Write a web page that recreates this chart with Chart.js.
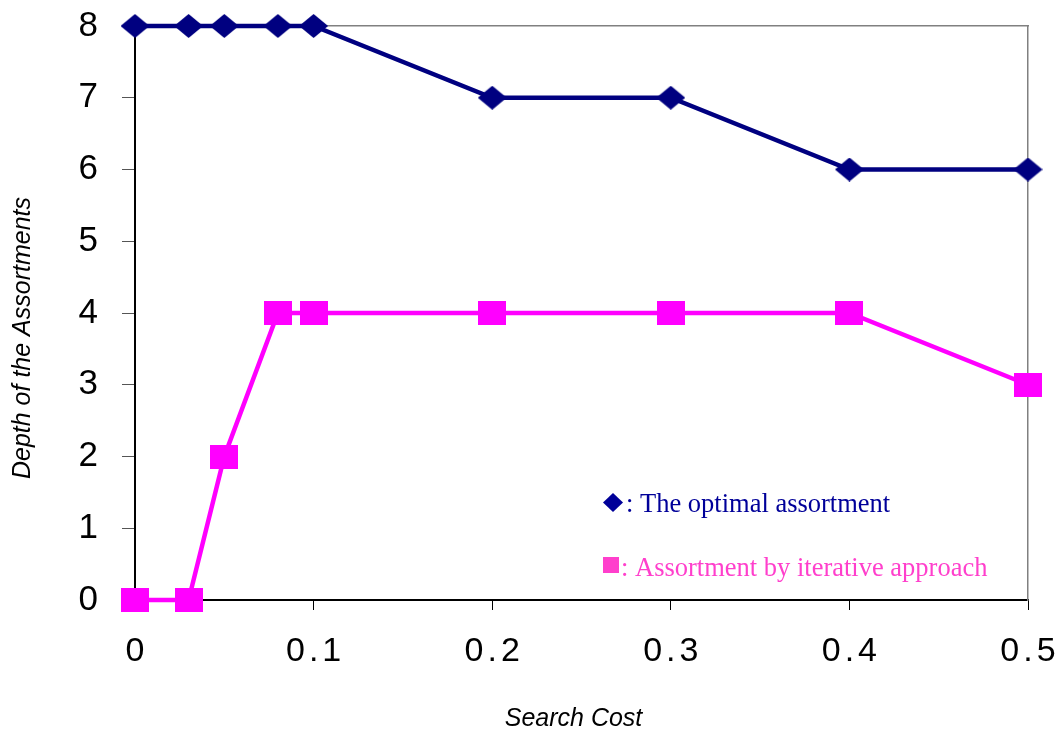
<!DOCTYPE html>
<html>
<head>
<meta charset="utf-8">
<script src="https://cdn.jsdelivr.net/npm/chart.js@4/dist/chart.umd.min.js"></script>
<style>
  html, body { margin: 0; padding: 0; background: #ffffff; }
  #wrap { width: 1062px; height: 738px; }
</style>
</head>
<body>
<div id="wrap"><canvas id="chart" width="1062" height="738"></canvas></div>
<script>
// Search cost levels and the assortment depth found by each method
const searchCost = [0, 0.03, 0.05, 0.08, 0.1, 0.2, 0.3, 0.4, 0.5];
const optimalDepth = [8, 8, 8, 8, 8, 7, 7, 6, 6];
const iterativeDepth = [0, 0, 2, 4, 4, 4, 4, 4, 3];

// Axis tick labels
const costTickLabels = ['0', '0.1', '0.2', '0.3', '0.4', '0.5'];
const depthTickLabels = ['0', '1', '2', '3', '4', '5', '6', '7', '8'];

const seriesNames = [': The optimal assortment', ': Assortment by iterative approach'];

const NAVY = '#000080';
const MAGENTA = '#ff00ff';

// Linear scale whose tick labels are set a little wider apart and pushed
// away from the axis line, with an optional shift of the axis title.
class SpacedLinearScale extends Chart.LinearScale {
  drawLabels(chartArea) {
    const ctx = this.ctx;
    const spacing = this.options.labelSpacing || 0;
    const gap = this.options.labelGap || 0;
    const prev = ctx.letterSpacing;
    ctx.letterSpacing = spacing + 'px';
    ctx.save();
    if (this.isHorizontal()) ctx.translate(spacing / 2, gap);
    else ctx.translate(spacing - gap, 0);
    super.drawLabels(chartArea);
    ctx.restore();
    ctx.letterSpacing = prev;
  }
  drawTitle() {
    const shift = this.options.titleShift || 0;
    this.ctx.save();
    if (this.isHorizontal()) this.ctx.translate(shift, 0);
    else this.ctx.translate(0, shift);
    super.drawTitle();
    this.ctx.restore();
  }
}
SpacedLinearScale.id = 'spacedLinear';
SpacedLinearScale.defaults = Chart.LinearScale.defaults;
Chart.register(SpacedLinearScale);

// Marker images (slightly wider than tall)
function diamondMarker(w, h, color) {
  const c = document.createElement('canvas');
  c.width = w; c.height = h;
  const g = c.getContext('2d');
  g.fillStyle = color;
  g.beginPath();
  g.moveTo(w / 2, 0);
  g.lineTo(w, h / 2);
  g.lineTo(w / 2, h);
  g.lineTo(0, h / 2);
  g.closePath();
  g.fill();
  return c;
}
function squareMarker(w, h, color) {
  const c = document.createElement('canvas');
  c.width = w; c.height = h;
  const g = c.getContext('2d');
  g.fillStyle = color;
  g.fillRect(0, 0, w, h);
  return c;
}

// Text key drawn inside the plot area
const keyPlugin = {
  id: 'seriesKey',
  afterDatasetsDraw(chart) {
    const ctx = chart.ctx;
    ctx.save();
    ctx.font = '26.5px "Liberation Serif", "Times New Roman", serif';
    ctx.textBaseline = 'alphabetic';
    ctx.textAlign = 'left';

    // optimal assortment
    ctx.fillStyle = '#000099';
    ctx.beginPath();
    ctx.moveTo(613, 493);
    ctx.lineTo(623, 502.5);
    ctx.lineTo(613, 512);
    ctx.lineTo(603, 502.5);
    ctx.closePath();
    ctx.fill();
    ctx.fillText(seriesNames[0], 626, 512);

    // iterative approach
    ctx.fillStyle = '#ff3fcc';
    ctx.fillRect(603, 557, 16, 16);
    ctx.fillText(seriesNames[1], 621, 576);
    ctx.restore();
  }
};

const xTickFont = { family: '"Liberation Sans", Arial, sans-serif', size: 34 };
const yTickFont = { family: '"Liberation Sans", Arial, sans-serif', size: 35 };
const titleFont = { family: '"Liberation Sans", Arial, sans-serif', size: 25, style: 'italic' };

new Chart(document.getElementById('chart'), {
  type: 'line',
  data: {
    datasets: [
      {
        label: 'The optimal assortment',
        data: searchCost.map((x, i) => ({ x, y: optimalDepth[i] })),
        borderColor: NAVY,
        backgroundColor: NAVY,
        borderWidth: 4.5,
        pointStyle: diamondMarker(29, 24, NAVY),
        pointRadius: 14,
        clip: false,
        tension: 0
      },
      {
        label: 'Assortment by iterative approach',
        data: searchCost.map((x, i) => ({ x, y: iterativeDepth[i] })),
        borderColor: MAGENTA,
        backgroundColor: MAGENTA,
        borderWidth: 4.5,
        pointStyle: squareMarker(28, 24, MAGENTA),
        pointRadius: 14,
        clip: false,
        tension: 0
      }
    ]
  },
  options: {
    responsive: false,
    animation: false,
    events: [],
    layout: { padding: 0 },
    plugins: {
      legend: { display: false },
      tooltip: { enabled: false }
    },
    scales: {
      x: {
        type: 'spacedLinear',
        position: 'bottom',
        min: 0,
        max: 0.5,
        labelSpacing: 4,
        labelGap: 21,
        titleShift: -8,
        ticks: {
          stepSize: 0.1,
          color: '#000',
          font: xTickFont,
          padding: 0,
          maxRotation: 0,
          callback: (v) => costTickLabels[Math.round(v * 10)]
        },
        grid: { drawOnChartArea: false, drawTicks: true, tickLength: 10, color: '#000', lineWidth: 1 },
        border: { display: true, color: '#000', width: 2 },
        title: { display: true, text: 'Search Cost', color: '#000', font: titleFont, padding: { top: 0, bottom: 4 } },
        afterFit: (s) => { s.height = 138; }
      },
      y: {
        type: 'spacedLinear',
        position: 'left',
        min: 0,
        max: 8,
        titleShift: 25,
        labelGap: 24,
        ticks: {
          stepSize: 1,
          color: '#000',
          font: yTickFont,
          padding: 0,
          callback: (v) => depthTickLabels[Math.round(v)]
        },
        grid: { drawOnChartArea: false, drawTicks: true, tickLength: 13, color: '#555', lineWidth: 1 },
        border: { display: true, color: '#000', width: 2 },
        title: { display: true, text: 'Depth of the Assortments', color: '#000', font: titleFont, padding: { top: 8, bottom: 0 } },
        afterFit: (s) => { s.width = 135; }
      },
      xTop: {
        type: 'linear',
        position: 'top',
        min: 0,
        max: 0.5,
        ticks: { display: false },
        grid: { display: false },
        border: { display: true, color: '#808080', width: 1.5 },
        afterFit: (s) => { s.height = 26; }
      },
      yRight: {
        position: 'right',
        min: 0,
        max: 8,
        ticks: { display: false },
        grid: { display: false },
        border: { display: true, color: '#808080', width: 1.5 },
        afterFit: (s) => { s.width = 34; }
      }
    }
  },
  plugins: [keyPlugin]
});
</script>
</body>
</html>
